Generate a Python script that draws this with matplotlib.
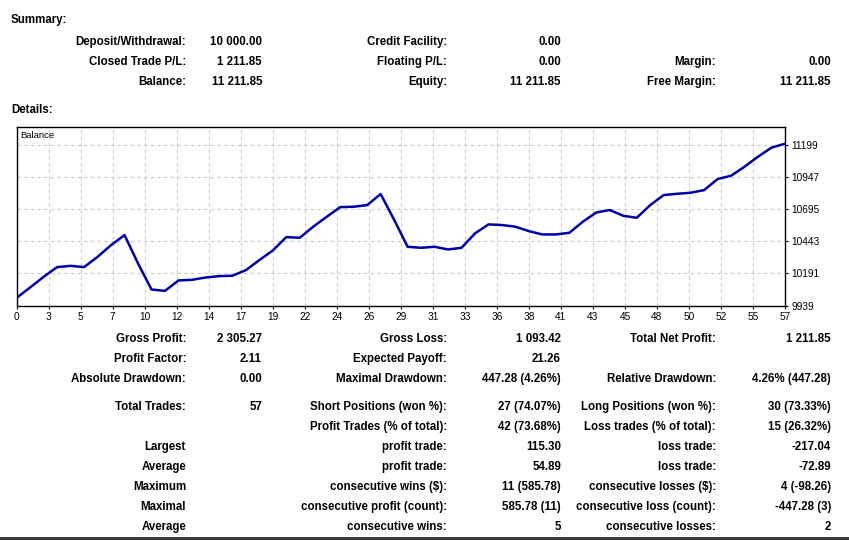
import numpy as np
import matplotlib.pyplot as plt

# balance after each trade (0 = initial deposit)
trades = np.arange(58)
balance = [10000, 10081, 10165, 10241, 10251, 10241, 10322, 10414, 10493, 10270,
           10065, 10054, 10136, 10141, 10159, 10170, 10173, 10217, 10296, 10372,
           10477, 10472, 10559, 10637, 10713, 10716, 10729, 10816, 10614, 10401,
           10393, 10401, 10380, 10393, 10506, 10577, 10572, 10559, 10524, 10498,
           10498, 10511, 10598, 10671, 10690, 10645, 10629, 10729, 10808, 10818,
           10826, 10847, 10934, 10960, 11031, 11110, 11181, 11211.85]

y_ticks = [9939, 10191, 10443, 10695, 10947, 11199]
x_tick_labels = ['0', '3', '5', '7', '10', '12', '14', '17', '19', '22', '24', '26', '29',
                 '31', '33', '36', '38', '41', '43', '45', '48', '50', '52', '55', '57']

summary_rows = [
    ['Deposit/Withdrawal:', '10 000.00', 'Credit Facility:', '0.00', '', ''],
    ['Closed Trade P/L:', '1 211.85', 'Floating P/L:', '0.00', 'Margin:', '0.00'],
    ['Balance:', '11 211.85', 'Equity:', '11 211.85', 'Free Margin:', '11 211.85'],
]
details_rows = [
    ['Gross Profit:', '2 305.27', 'Gross Loss:', '1 093.42', 'Total Net Profit:', '1 211.85'],
    ['Profit Factor:', '2.11', 'Expected Payoff:', '21.26', '', ''],
    ['Absolute Drawdown:', '0.00', 'Maximal Drawdown:', '447.28 (4.26%)', 'Relative Drawdown:', '4.26% (447.28)'],
    ['Total Trades:', '57', 'Short Positions (won %):', '27 (74.07%)', 'Long Positions (won %):', '30 (73.33%)'],
    ['', '', 'Profit Trades (% of total):', '42 (73.68%)', 'Loss trades (% of total):', '15 (26.32%)'],
    ['Largest', '', 'profit trade:', '115.30', 'loss trade:', '-217.04'],
    ['Average', '', 'profit trade:', '54.89', 'loss trade:', '-72.89'],
    ['Maximum', '', 'consecutive wins ($):', '11 (585.78)', 'consecutive losses ($):', '4 (-98.26)'],
    ['Maximal', '', 'consecutive profit (count):', '585.78 (11)', 'consecutive loss (count):', '-447.28 (3)'],
    ['Average', '', 'consecutive wins:', '5', 'consecutive losses:', '2'],
]

W, H = 849, 540
fig = plt.figure(figsize=(W / 100, H / 100), dpi=100)
fig.patch.set_facecolor('white')

fnt = dict(family=['Liberation Sans', 'DejaVu Sans'], fontsize=8.3, fontweight='bold')
col_x = [186, 262, 447, 561, 716, 831]

def put(x, y, s, ha='right'):
    fig.text(x / W, 1 - y / H, s, ha=ha, va='center', **fnt)

put(11, 20, 'Summary:', ha='left')
for r, row in enumerate(summary_rows):
    for c, s in enumerate(row):
        if s:
            put(col_x[c], 42 + 20 * r, s)

put(11, 110, 'Details:', ha='left')
row_y = [339, 359, 379, 407, 427, 447, 467, 487, 507, 527]
for r, row in enumerate(details_rows):
    for c, s in enumerate(row):
        if s:
            put(col_x[c], row_y[r], s)

# chart
left, right, top, bottom = 16.7, 785, 127.3, 305.5
ax = fig.add_axes([left / W, 1 - bottom / H, (right - left) / W, (bottom - top) / H])
ax.plot(trades, balance, color='#0000a8', lw=1.8, solid_joinstyle='round')
ax.set_xlim(0, 57)
ax.set_ylim(9939, 11341)
ax.set_xticks(np.arange(25) * 57 / 24)
ax.set_xticklabels(x_tick_labels)
ax.set_yticks(y_ticks)
ax.set_yticklabels([str(v) for v in y_ticks])
ax.yaxis.tick_right()
ax.tick_params(axis='both', labelsize=7.3, length=2.5, width=0.8, pad=2, direction='out')
for lab in ax.get_xticklabels() + ax.get_yticklabels():
    lab.set_family(['Liberation Sans', 'DejaVu Sans'])
ax.grid(True, color='#c8c8c8', ls=(0, (3, 3)), lw=0.8)
for sp in ax.spines.values():
    sp.set_linewidth(1)
    sp.set_color('black')
ax.text(0.005, 0.955, 'Balance', transform=ax.transAxes, fontsize=6.8,
        family=['Liberation Sans', 'DejaVu Sans'], va='center', ha='left')

# dark strip at the bottom edge
fig.add_artist(plt.Rectangle((0, 0), 1, 3 / H, transform=fig.transFigure, color='#3a3a3a', lw=0))

fig.savefig('out.png', dpi=100)
